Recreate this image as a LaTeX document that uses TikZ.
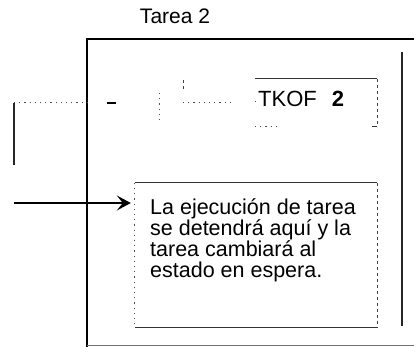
\documentclass[tikz,border=0pt]{standalone}
\usepackage{fontspec}
\setmainfont{Liberation Sans}
\usetikzlibrary{arrows.meta}
\tikzset{
  rail/.style={line width=2.2pt, black},
  thinrail/.style={line width=1.1pt, black!85},
  faint/.style={line width=1pt, black!70, dash pattern=on 1.2pt off 4pt},
  faintdash/.style={line width=1pt, black!75, dash pattern=on 3pt off 3pt},
  boxside/.style={line width=1pt, black!80},
  arrowline/.style={line width=1.8pt, -{Stealth[length=14pt,width=15pt,inset=6pt]}},
  txt/.style={inner sep=0pt, anchor=base west, align=left}
}
\begin{document}
\begin{tikzpicture}[x=1pt,y=-1pt]
\useasboundingbox (0,0) rectangle (414,347);
% title
\node[inner sep=0pt, anchor=base, font=\fontsize{21}{21}\selectfont] (title) at (175,24) {Tarea 2};
% big frame
\coordinate (ftl) at (87,39);
\coordinate (ftr) at (414,39);
\coordinate (fbl) at (87,347);
\coordinate (fbb) at (87,345);
\coordinate (fbr) at (414,345);
\draw[rail] (fbl) -- (ftl) -- (ftr);
\draw[line width=1pt, black!55] (fbb) -- (fbr);
\coordinate (rt) at (402,52);
\coordinate (rb) at (402,326);
\draw[thinrail] (rt) -- (rb);
% left rail of faded rung
\coordinate (l1) at (14,103);
\coordinate (l2) at (14,165);
\draw[thinrail] (l1) -- (l2);
\coordinate (h1) at (87,103);
\draw[faint] (l1) -- (h1);
\coordinate (d1) at (107,103);
\coordinate (d2) at (116,103);
\draw[line width=1.2pt] (d1) -- (d2);
\coordinate (v1) at (159,93);
\coordinate (v2) at (159,121);
\draw[faint] (v1) -- (v2);
\coordinate (w1) at (183,80);
\coordinate (w2) at (183,92);
\draw[faintdash] (w1) -- (w2);
\coordinate (g1) at (183,103);
\coordinate (g2) at (232,103);
\draw[faint] (g1) -- (g2);
% TKOF box
\coordinate (ta) at (255,79);
\coordinate (tb) at (377,79);
\coordinate (tc) at (377,127);
\coordinate (td) at (372,127);
\coordinate (te) at (255,127);
\coordinate (tf) at (276,127);
\draw[boxside] (ta) -- (tb);
\draw[faintdash] (tb) -- (tc);
\draw[boxside] (tc) -- (td);
\draw[faint] (te) -- (tf);
\draw[faint] (ta) ++(0,22) -- ++(0,4);
\node[txt, font=\fontsize{22}{22}\selectfont] (tkof) at (258,107) {TKOF\hspace{15pt}\textbf{2}};
% message box
\node[minimum width=242pt, minimum height=144pt, inner sep=0pt] (msg) at (256,255) {};
\draw[boxside] (msg.north west) -- (msg.north east);
\draw[boxside] (msg.south west) -- (msg.south east);
\draw[faint] (msg.north west) -- (msg.south west);
\draw[faintdash] (msg.north east) -- (msg.south east);
\node[txt, font=\fontsize{21.5}{21}\selectfont] (msgtext) at (150,277) {La ejecución de tarea\\ se detendrá aquí y la\\ tarea cambiará al\\ estado en espera.};
% arrow
\coordinate (a0) at (14,203);
\draw[arrowline, shorten >=4pt] (a0) -- (a0 -| msg.west);
\end{tikzpicture}
\end{document}
